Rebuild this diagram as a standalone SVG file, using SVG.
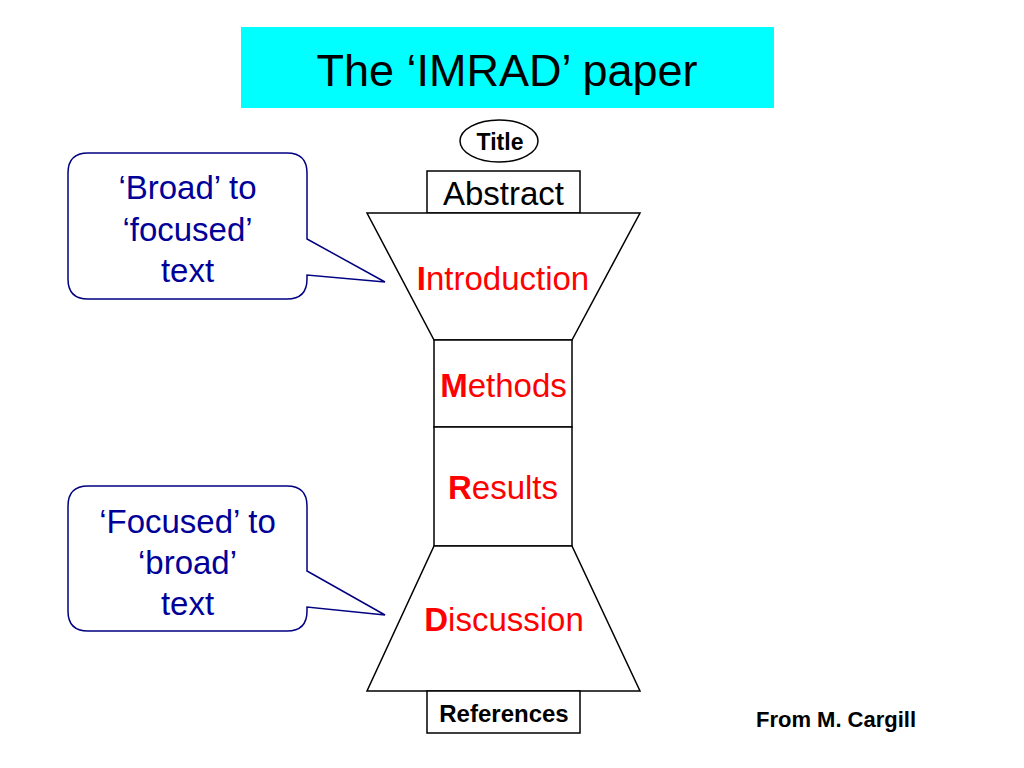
<svg xmlns="http://www.w3.org/2000/svg" width="1024" height="768" viewBox="0 0 1024 768">
<style>
.shape{fill:#ffffff;stroke:#000000;stroke-width:1.5}
.call{fill:#ffffff;stroke:#000080;stroke-width:1.5}
.t{font-family:"Liberation Sans",Arial,sans-serif;text-anchor:middle}
.big{font-size:33px}
.red{fill:#ff0000}
.navy{fill:#000099;font-size:33px}
.b{font-weight:bold}
</style>
<rect width="1024" height="768" fill="#ffffff"/>
<g id="heading">
<rect x="241" y="27" width="533" height="81" fill="#00ffff"/>
<text class="t" x="507" y="86" font-size="45">The ‘IMRAD’ paper</text>
</g>
<g id="title">
<ellipse class="shape" cx="499" cy="141" rx="39" ry="21"/>
<text class="t b" x="500" y="150" font-size="23">Title</text>
</g>
<g id="abstract">
<rect class="shape" x="427" y="171" width="153" height="42"/>
<text class="t big" x="503.5" y="205">Abstract</text>
</g>
<g id="introduction">
<polygon class="shape" points="367,213 640,213 572,340 434,340"/>
<text class="t big red" x="503" y="290"><tspan class="b">I</tspan>ntroduction</text>
</g>
<g id="methods">
<rect class="shape" x="434" y="340" width="138" height="87"/>
<text class="t big red" x="503.5" y="397"><tspan class="b">M</tspan>ethods</text>
</g>
<g id="results">
<rect class="shape" x="434" y="427" width="138" height="119"/>
<text class="t big red" x="503" y="499"><tspan class="b">R</tspan>esults</text>
</g>
<g id="discussion">
<polygon class="shape" points="434,546 572,546 640,691 367,691"/>
<text class="t big red" x="504" y="631"><tspan class="b">D</tspan>iscussion</text>
</g>
<g id="references">
<rect class="shape" x="427" y="691" width="153" height="42"/>
<text class="t b" x="504" y="722" font-size="24">References</text>
</g>
<g id="callout-broad">
<path class="call" d="M88,153 H287 Q307,153 307,173 V239 L385,282 L307,275 V279 Q307,299 287,299 H88 Q68,299 68,279 V173 Q68,153 88,153 Z"/>
<text class="t navy" x="187.5" y="199">‘Broad’ to</text>
<text class="t navy" x="187.5" y="241">‘focused’</text>
<text class="t navy" x="187.5" y="282">text</text>
</g>
<g id="callout-focused">
<path class="call" d="M88,486 H287 Q307,486 307,506 V571 L385,615 L307,607 V611 Q307,631 287,631 H88 Q68,631 68,611 V506 Q68,486 88,486 Z"/>
<text class="t navy" x="187.5" y="533">‘Focused’ to</text>
<text class="t navy" x="187.5" y="574">‘broad’</text>
<text class="t navy" x="187.5" y="615">text</text>
</g>
<g id="credit">
<text class="t b" x="836" y="727" font-size="22">From M. Cargill</text>
</g>
<g id="connectors"></g>
</svg>
